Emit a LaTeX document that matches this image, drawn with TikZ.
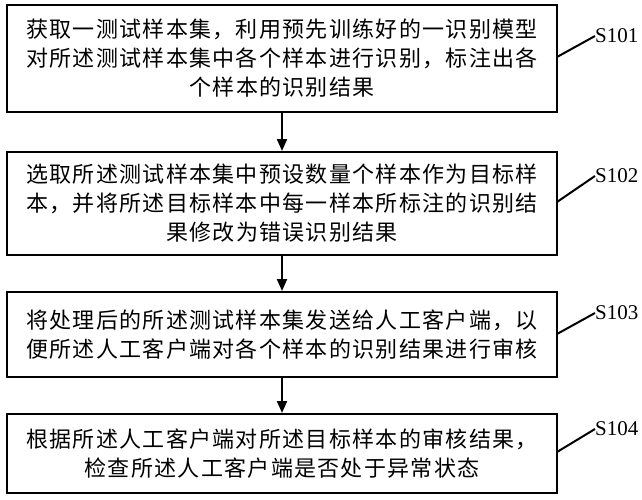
\documentclass[tikz,border=0pt]{standalone}
\usepackage{fontspec}
\setmainfont{Liberation Serif}
\newfontfamily\cjk[LetterSpace=6]{Noto Sans CJK SC}
\usetikzlibrary{arrows.meta}
\begin{document}
\begin{tikzpicture}[x=1pt,y=-1pt,
  box/.style={draw, line width=2pt, minimum width=550pt, inner sep=0pt, align=center,
    font=\cjk\fontsize{22pt}{29pt}\selectfont},
  arr/.style={line width=2pt, -{Triangle[length=12pt,width=10pt]}},
  lead/.style={line width=2pt},
  steplabel/.style={anchor=west, inner sep=0pt, font=\fontsize{21pt}{24pt}\selectfont}]
\useasboundingbox (0,0) rectangle (642,500);
\node[box, minimum height=107pt] (b1) at (282,58.5) {获取一测试样本集，利用预先训练好的一识别模型\\对所述测试样本集中各个样本进行识别，标注出各\\个样本的识别结果};
\node[box, minimum height=103pt] (b2) at (282,203.5) {选取所述测试样本集中预设数量个样本作为目标样\\本，并将所述目标样本中每一样本所标注的识别结\\果修改为错误识别结果};
\node[box, minimum height=85pt] (b3) at (282,334.5) {将处理后的所述测试样本集发送给人工客户端，以\\便所述人工客户端对各个样本的识别结果进行审核};
\node[box, minimum height=79pt] (b4) at (282,453.5) {根据所述人工客户端对所述目标样本的审核结果，\\检查所述人工客户端是否处于异常状态};
\draw[arr] (b1.south) -- (b2.north);
\draw[arr] (b2.south) -- (b3.north);
\draw[arr] (b3.south) -- (b4.north);
\node[steplabel] (l1) at (595,36) {S101};
\node[steplabel] (l2) at (595,176) {S102};
\node[steplabel] (l3) at (595,313) {S103};
\node[steplabel] (l4) at (595,429) {S104};
\coordinate (c1) at (557,57);
\coordinate (c2) at (557,202);
\coordinate (c3) at (557,334);
\coordinate (c4) at (557,452);
\draw[lead] (c1) -- (l1.west);
\draw[lead] (c2) -- (l2.west);
\draw[lead] (c3) -- (l3.west);
\draw[lead] (c4) -- (l4.west);
\end{tikzpicture}
\end{document}
